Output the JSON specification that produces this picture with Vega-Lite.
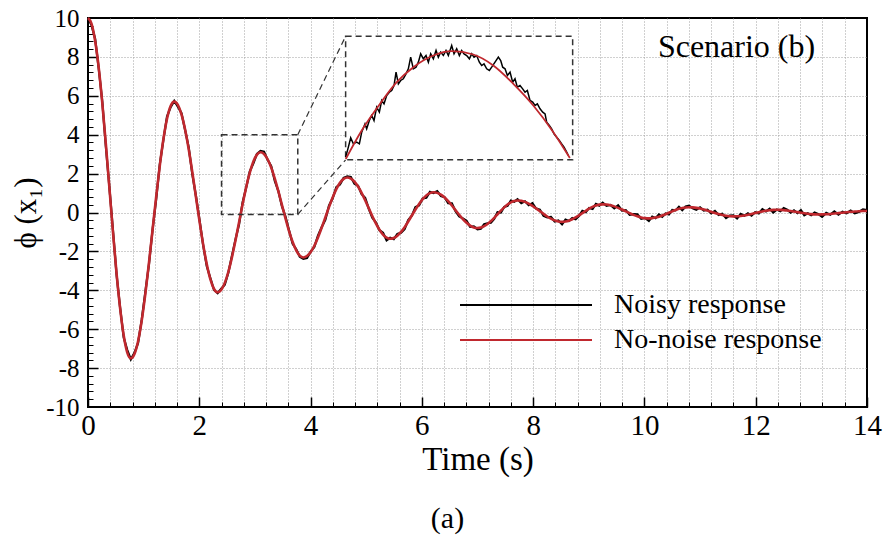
{
"$schema": "https://vega.github.io/schema/vega-lite/v6.json",
"width": 779, "height": 389,
"autosize": {"type": "none"},
"padding": {"left": 88, "top": 18, "right": 22, "bottom": 133},
"background": "white",
"config": {"font": "Liberation Serif", "view": {"stroke": "black", "strokeWidth": 2}, "axis": {"labelFont": "Liberation Serif", "titleFont": "Liberation Serif"}},
"title": {"text": "(a)", "orient": "bottom", "font": "Liberation Serif", "fontSize": 30, "fontWeight": "normal", "color": "black", "offset": 28, "dx": -30},
"datasets": {
"main": [
{"t":0,"c":10,"n":10},{"t":0.064,"c":9.702,"n":9.622},{"t":0.128,"c":8.828,"n":8.938},{"t":0.193,"c":7.437,"n":7.397},{"t":0.257,"c":5.625,"n":5.695},{"t":0.321,"c":3.515,"n":3.395},{"t":0.385,"c":1.25,"n":1.28},{"t":0.449,"c":-1.015,"n":-0.925},{"t":0.513,"c":-3.125,"n":-3.185},{"t":0.578,"c":-4.937,"n":-4.917},{"t":0.642,"c":-6.328,"n":-6.428},{"t":0.706,"c":-7.202,"n":-7.072},{"t":0.77,"c":-7.5,"n":-7.55},
{"t":0.835,"c":-7.275,"n":-7.215},{"t":0.9,"c":-6.616,"n":-6.706},{"t":0.965,"c":-5.567,"n":-5.527},{"t":1.03,"c":-4.2,"n":-4.1},{"t":1.095,"c":-2.608,"n":-2.678},{"t":1.16,"c":-0.9,"n":-0.89},{"t":1.225,"c":0.808,"n":0.678},{"t":1.29,"c":2.4,"n":2.48},{"t":1.355,"c":3.767,"n":3.737},{"t":1.42,"c":4.816,"n":4.936},{"t":1.485,"c":5.475,"n":5.415},{"t":1.55,"c":5.7,"n":5.74},
{"t":1.615,"c":5.533,"n":5.443},{"t":1.68,"c":5.043,"n":5.113},{"t":1.745,"c":4.265,"n":4.245},{"t":1.81,"c":3.25,"n":3.35},{"t":1.875,"c":2.068,"n":1.958},{"t":1.94,"c":0.8,"n":0.85},{"t":2.005,"c":-0.468,"n":-0.388},{"t":2.07,"c":-1.65,"n":-1.69},{"t":2.135,"c":-2.665,"n":-2.765},{"t":2.2,"c":-3.443,"n":-3.383},{"t":2.265,"c":-3.933,"n":-3.983},{"t":2.33,"c":-4.1,"n":-4.15},
{"t":2.394,"c":-3.977,"n":-3.917},{"t":2.458,"c":-3.618,"n":-3.718},{"t":2.523,"c":-3.046,"n":-3.086},{"t":2.587,"c":-2.3,"n":-2.22},{"t":2.651,"c":-1.432,"n":-1.382},{"t":2.715,"c":-0.5,"n":-0.61},{"t":2.779,"c":0.432,"n":0.532},{"t":2.843,"c":1.3,"n":1.28},{"t":2.908,"c":2.046,"n":2.116},{"t":2.972,"c":2.618,"n":2.528},{"t":3.036,"c":2.977,"n":3.017},{"t":3.1,"c":3.1,"n":3.16},
{"t":3.164,"c":3.008,"n":3.128},{"t":3.228,"c":2.738,"n":2.708},{"t":3.293,"c":2.308,"n":2.388},{"t":3.357,"c":1.748,"n":1.618},{"t":3.421,"c":1.095,"n":1.105},{"t":3.485,"c":0.395,"n":0.325},{"t":3.549,"c":-0.305,"n":-0.205},{"t":3.613,"c":-0.958,"n":-0.918},{"t":3.678,"c":-1.518,"n":-1.608},{"t":3.742,"c":-1.948,"n":-1.888},{"t":3.806,"c":-2.218,"n":-2.268},{"t":3.87,"c":-2.31,"n":-2.38},
{"t":3.936,"c":-2.24,"n":-2.34},{"t":4.002,"c":-2.035,"n":-2.015},{"t":4.068,"c":-1.708,"n":-1.768},{"t":4.133,"c":-1.283,"n":-1.193},{"t":4.199,"c":-0.787,"n":-0.757},{"t":4.265,"c":-0.255,"n":-0.375},{"t":4.331,"c":0.277,"n":0.347},{"t":4.397,"c":0.773,"n":0.733},{"t":4.463,"c":1.198,"n":1.308},{"t":4.528,"c":1.525,"n":1.445},{"t":4.594,"c":1.73,"n":1.78},{"t":4.66,"c":1.8,"n":1.86},
{"t":4.724,"c":1.746,"n":1.826},{"t":4.788,"c":1.589,"n":1.479},{"t":4.853,"c":1.339,"n":1.379},{"t":4.917,"c":1.013,"n":0.943},{"t":4.981,"c":0.633,"n":0.753},{"t":5.045,"c":0.225,"n":0.195},{"t":5.109,"c":-0.183,"n":-0.273},{"t":5.173,"c":-0.563,"n":-0.503},{"t":5.238,"c":-0.889,"n":-0.909},{"t":5.302,"c":-1.139,"n":-1.039},{"t":5.366,"c":-1.296,"n":-1.426},{"t":5.43,"c":-1.35,"n":-1.3},
{"t":5.495,"c":-1.309,"n":-1.369},{"t":5.56,"c":-1.19,"n":-1.1},{"t":5.625,"c":-1.0,"n":-1.04},{"t":5.69,"c":-0.753,"n":-0.853},{"t":5.755,"c":-0.464,"n":-0.394},{"t":5.82,"c":-0.155,"n":-0.165},{"t":5.885,"c":0.154,"n":0.284},{"t":5.95,"c":0.443,"n":0.363},{"t":6.015,"c":0.69,"n":0.72},{"t":6.08,"c":0.88,"n":0.76},{"t":6.145,"c":0.999,"n":1.059},{"t":6.21,"c":1.04,"n":1.0},
{"t":6.276,"c":1.009,"n":1.099},{"t":6.342,"c":0.917,"n":0.847},{"t":6.408,"c":0.771,"n":0.791},{"t":6.473,"c":0.58,"n":0.48},{"t":6.539,"c":0.358,"n":0.468},{"t":6.605,"c":0.12,"n":0.07},{"t":6.671,"c":-0.118,"n":-0.198},{"t":6.737,"c":-0.34,"n":-0.3},{"t":6.803,"c":-0.531,"n":-0.431},{"t":6.868,"c":-0.677,"n":-0.737},{"t":6.934,"c":-0.769,"n":-0.719},{"t":7.0,"c":-0.8,"n":-0.86},
{"t":7.06,"c":-0.776,"n":-0.836},{"t":7.12,"c":-0.705,"n":-0.605},{"t":7.18,"c":-0.592,"n":-0.552},{"t":7.24,"c":-0.445,"n":-0.525},{"t":7.3,"c":-0.274,"n":-0.324},{"t":7.36,"c":-0.09,"n":0.02},{"t":7.42,"c":0.094,"n":-0.006},{"t":7.48,"c":0.265,"n":0.285},{"t":7.54,"c":0.412,"n":0.342},{"t":7.6,"c":0.525,"n":0.615},{"t":7.66,"c":0.596,"n":0.556},{"t":7.72,"c":0.62,"n":0.68},
{"t":7.787,"c":0.601,"n":0.481},{"t":7.853,"c":0.546,"n":0.576},{"t":7.92,"c":0.459,"n":0.379},{"t":7.987,"c":0.345,"n":0.475},{"t":8.053,"c":0.212,"n":0.202},{"t":8.12,"c":0.07,"n":0.14},{"t":8.187,"c":-0.072,"n":-0.172},{"t":8.253,"c":-0.205,"n":-0.245},{"t":8.32,"c":-0.319,"n":-0.229},{"t":8.387,"c":-0.406,"n":-0.466},{"t":8.453,"c":-0.461,"n":-0.411},{"t":8.52,"c":-0.48,"n":-0.61},
{"t":8.581,"c":-0.465,"n":-0.365},{"t":8.642,"c":-0.42,"n":-0.44},{"t":8.703,"c":-0.348,"n":-0.288},{"t":8.763,"c":-0.255,"n":-0.345},{"t":8.824,"c":-0.146,"n":-0.176},{"t":8.885,"c":-0.03,"n":0.09},{"t":8.946,"c":0.086,"n":0.016},{"t":9.007,"c":0.195,"n":0.235},{"t":9.068,"c":0.288,"n":0.178},{"t":9.128,"c":0.36,"n":0.44},{"t":9.189,"c":0.405,"n":0.355},{"t":9.25,"c":0.42,"n":0.51},
{"t":9.319,"c":0.408,"n":0.348},{"t":9.388,"c":0.372,"n":0.392},{"t":9.458,"c":0.315,"n":0.215},{"t":9.527,"c":0.24,"n":0.37},{"t":9.596,"c":0.153,"n":0.103},{"t":9.665,"c":0.06,"n":0.12},{"t":9.734,"c":-0.033,"n":-0.123},{"t":9.803,"c":-0.12,"n":-0.08},{"t":9.873,"c":-0.195,"n":-0.095},{"t":9.942,"c":-0.252,"n":-0.322},{"t":10.011,"c":-0.288,"n":-0.278},{"t":10.08,"c":-0.3,"n":-0.43},
{"t":10.14,"c":-0.29,"n":-0.21},{"t":10.2,"c":-0.262,"n":-0.292},{"t":10.26,"c":-0.217,"n":-0.097},{"t":10.32,"c":-0.158,"n":-0.218},{"t":10.38,"c":-0.089,"n":-0.049},{"t":10.44,"c":-0.015,"n":-0.105},{"t":10.5,"c":0.059,"n":0.129},{"t":10.56,"c":0.128,"n":0.108},{"t":10.62,"c":0.187,"n":0.287},{"t":10.68,"c":0.232,"n":0.122},{"t":10.74,"c":0.26,"n":0.31},{"t":10.8,"c":0.27,"n":0.35},
{"t":10.867,"c":0.262,"n":0.222},{"t":10.933,"c":0.239,"n":0.139},{"t":11.0,"c":0.201,"n":0.261},{"t":11.067,"c":0.153,"n":0.103},{"t":11.133,"c":0.096,"n":0.146},{"t":11.2,"c":0.035,"n":-0.045},{"t":11.267,"c":-0.026,"n":0.084},{"t":11.333,"c":-0.083,"n":-0.123},{"t":11.4,"c":-0.131,"n":-0.061},{"t":11.467,"c":-0.169,"n":-0.289},{"t":11.533,"c":-0.192,"n":-0.162},{"t":11.6,"c":-0.2,"n":-0.15},
{"t":11.665,"c":-0.194,"n":-0.304},{"t":11.73,"c":-0.177,"n":-0.077},{"t":11.795,"c":-0.15,"n":-0.17},{"t":11.86,"c":-0.115,"n":-0.045},{"t":11.925,"c":-0.074,"n":-0.164},{"t":11.99,"c":-0.03,"n":0.01},{"t":12.055,"c":0.014,"n":-0.046},{"t":12.12,"c":0.055,"n":0.175},{"t":12.185,"c":0.09,"n":0.06},{"t":12.25,"c":0.117,"n":0.197},{"t":12.315,"c":0.134,"n":0.004},{"t":12.38,"c":0.14,"n":0.15},
{"t":12.442,"c":0.136,"n":0.066},{"t":12.503,"c":0.124,"n":0.224},{"t":12.565,"c":0.105,"n":0.145},{"t":12.627,"c":0.08,"n":-0.01},{"t":12.688,"c":0.051,"n":0.111},{"t":12.75,"c":0.02,"n":-0.03},{"t":12.812,"c":-0.011,"n":0.119},{"t":12.873,"c":-0.04,"n":-0.14},{"t":12.935,"c":-0.065,"n":-0.045},{"t":12.997,"c":-0.084,"n":-0.144},{"t":13.058,"c":-0.096,"n":-0.006},{"t":13.12,"c":-0.1,"n":-0.07},
{"t":13.193,"c":-0.097,"n":-0.217},{"t":13.267,"c":-0.088,"n":-0.018},{"t":13.34,"c":-0.074,"n":-0.114},{"t":13.413,"c":-0.055,"n":0.055},{"t":13.487,"c":-0.033,"n":-0.113},{"t":13.56,"c":-0.01,"n":0.04},{"t":13.633,"c":0.013,"n":-0.037},{"t":13.707,"c":0.035,"n":0.095},{"t":13.78,"c":0.054,"n":-0.046},{"t":13.853,"c":0.068,"n":0.028},{"t":13.927,"c":0.077,"n":0.157},{"t":14.0,"c":0.08,"n":0.13}
],
"zoombox": [{"t":2.4,"t2":3.77,"v":-0.1,"v2":4}],
"insetbox": [{"t":4.63,"t2":8.71,"v":2.71,"v2":9.06}],
"connectors": [{"t":3.77,"v":4,"t2":4.63,"v2":9.06},{"t":3.77,"v":-0.1,"t2":4.63,"v2":2.71}],
"insetNoisy": [
{"t":4.631,"v":2.845},{"t":4.679,"v":3.359},{"t":4.721,"v":3.839},{"t":4.769,"v":3.531},{"t":4.829,"v":3.616},{"t":4.877,"v":3.531},{"t":4.919,"v":4.13},{"t":4.978,"v":4.559},{"t":5.008,"v":4.302},{"t":5.056,"v":4.73},{"t":5.098,"v":4.987},{"t":5.14,"v":4.73},{"t":5.188,"v":5.416},{"t":5.236,"v":5.159},{"t":5.278,"v":5.759},{"t":5.32,"v":5.587},{"t":5.368,"v":6.016},{"t":5.416,"v":6.187},{"t":5.458,"v":6.273},{"t":5.5,"v":6.53},{"t":5.536,"v":7.215},{"t":5.578,"v":6.616},{"t":5.62,"v":6.787},{"t":5.667,"v":6.873},{"t":5.715,"v":7.13},{"t":5.757,"v":7.387},{"t":5.799,"v":7.987},{"t":5.847,"v":7.387},{"t":5.895,"v":7.472},{"t":5.937,"v":7.729},{"t":5.979,"v":8.158},{"t":6.027,"v":7.901},{"t":6.075,"v":8.072},{"t":6.117,"v":7.729},{"t":6.159,"v":8.158},{"t":6.207,"v":7.901},{"t":6.255,"v":8.329},{"t":6.296,"v":7.987},{"t":6.338,"v":8.244},{"t":6.386,"v":8.072},{"t":6.434,"v":8.329},{"t":6.476,"v":8.072},{"t":6.536,"v":8.586},{"t":6.578,"v":8.158},{"t":6.626,"v":8.415},{"t":6.674,"v":8.072},{"t":6.716,"v":8.329},{"t":6.758,"v":8.158},{"t":6.806,"v":8.072},{"t":6.854,"v":7.901},{"t":6.896,"v":8.158},{"t":6.937,"v":7.987},{"t":6.985,"v":8.072},{"t":7.033,"v":7.729},{"t":7.075,"v":7.558},{"t":7.117,"v":7.644},{"t":7.165,"v":7.387},{"t":7.213,"v":7.301},{"t":7.255,"v":7.472},{"t":7.315,"v":7.729},{"t":7.375,"v":7.987},{"t":7.417,"v":7.815},{"t":7.453,"v":7.472},{"t":7.495,"v":7.387},{"t":7.537,"v":7.044},{"t":7.585,"v":7.215},{"t":7.632,"v":6.701},{"t":7.674,"v":6.873},{"t":7.716,"v":6.444},{"t":7.764,"v":6.53},{"t":7.812,"v":6.358},{"t":7.854,"v":6.187},{"t":7.896,"v":6.273},{"t":7.944,"v":5.759},{"t":7.992,"v":5.673},{"t":8.034,"v":5.502},{"t":8.076,"v":5.587},{"t":8.124,"v":5.33},{"t":8.172,"v":5.159},{"t":8.214,"v":5.073},{"t":8.243,"v":4.645},{"t":8.291,"v":4.473},{"t":8.333,"v":4.302},{"t":8.375,"v":4.045},{"t":8.423,"v":3.873},{"t":8.471,"v":3.702},{"t":8.513,"v":3.531},{"t":8.555,"v":3.359},{"t":8.603,"v":3.102},{"t":8.633,"v":2.931}
],
"insetClean": [
{"t":4.632,"v":2.75},{"t":4.919,"v":4.216},{"t":5.248,"v":5.589},{"t":5.548,"v":6.699},{"t":5.847,"v":7.47},{"t":6.206,"v":8.072},{"t":6.537,"v":8.293},{"t":6.925,"v":8.123},{"t":7.284,"v":7.558},{"t":7.644,"v":6.617},{"t":8.003,"v":5.501},{"t":8.363,"v":4.129},{"t":8.66,"v":2.8}
],
"notes": [{"t":11.655,"v":8.51,"text":"Scenario (b)"}]
},
"layer": [
{
"data": {"name": "main"},
"mark": {"type": "line", "strokeWidth": 2.2, "interpolate": "linear"},
"encoding": {
"x": {"field": "t", "type": "quantitative", "scale": {"domain": [0, 14], "nice": false, "zero": false},
"axis": {"orient": "bottom", "zindex": 0, "values": [0, 2, 4, 6, 8, 10, 12, 14], "title": "Time (s)", "ticks": false, "grid": false, "domain": false, "labelFont": "Liberation Serif", "labelFontSize": 29, "labelColor": "black", "labelPadding": 4, "labelFlush": false, "labelOverlap": false, "titleFont": "Liberation Serif", "titleFontSize": 33, "titleFontWeight": "normal", "titleColor": "black", "titlePadding": 3}},
"y": {"field": "n", "type": "quantitative", "scale": {"domain": [-10, 10], "nice": false, "zero": false},
"axis": {"orient": "left", "zindex": 0, "values": [-10, -8, -6, -4, -2, 0, 2, 4, 6, 8, 10], "labelExpr": "'' + datum.value", "title": "ϕ (x₁)", "ticks": false, "grid": false, "domain": false, "labelFont": "Liberation Serif", "labelFontSize": 25, "labelColor": "black", "labelPadding": 9, "labelFlush": false, "labelOverlap": false, "titleFont": "Liberation Serif", "titleFontSize": 31, "titleFontWeight": "normal", "titleColor": "black", "titlePadding": 3}},
"color": {"datum": "Noisy response", "type": "nominal",
"scale": {"domain": ["Noisy response", "No-noise response"], "range": ["#000000", "#c0282e"]},
"legend": {"orient": "none", "legendX": 371, "legendY": 269.5, "title": null, "symbolType": "stroke", "symbolSize": 17424, "symbolStrokeWidth": 2, "clipHeight": 35, "rowPadding": 0, "padding": 0, "labelFont": "Liberation Serif", "labelFontSize": 28, "labelColor": "black", "labelOffset": 21, "labelLimit": 500}}
}
},
{
"data": {"name": "main"},
"mark": {"type": "line", "strokeWidth": 2.6, "interpolate": "monotone"},
"encoding": {
"x": {"field": "t", "type": "quantitative", "scale": {"domain": [0, 14], "nice": false, "zero": false},
"axis": {"orient": "bottom", "zindex": 0, "values": [0.4, 0.8, 1.2, 1.6, 2, 2.4, 2.8, 3.2, 3.6, 4, 4.4, 4.8, 5.2, 5.6, 6, 6.4, 6.8, 7.2, 7.6, 8, 8.4, 8.8, 9.2, 9.6, 10, 10.4, 10.8, 11.2, 11.6, 12, 12.4, 12.8, 13.2, 13.6], "title": null, "labels": false, "domain": false, "ticks": true, "tickSize": -5, "tickColor": "black", "tickWidth": 1, "grid": true, "gridColor": "#a0a0a0", "gridDash": [1, 2], "gridWidth": 1}},
"y": {"field": "c", "type": "quantitative", "scale": {"domain": [-10, 10], "nice": false, "zero": false},
"axis": {"orient": "left", "zindex": 0, "values": [-9.6, -9.2, -8.8, -8.4, -8, -7.6, -7.2, -6.8, -6.4, -6, -5.6, -5.2, -4.8, -4.4, -4, -3.6, -3.2, -2.8, -2.4, -2, -1.6, -1.2, -0.8, -0.4, 0, 0.4, 0.8, 1.2, 1.6, 2, 2.4, 2.8, 3.2, 3.6, 4, 4.4, 4.8, 5.2, 5.6, 6, 6.4, 6.8, 7.2, 7.6, 8, 8.4, 8.8, 9.2, 9.6], "title": null, "labels": false, "domain": false, "ticks": true, "tickSize": -5, "tickColor": "black", "tickWidth": 1, "grid": false}},
"color": {"datum": "No-noise response", "type": "nominal"}
}
},
{
"data": {"name": "zoombox"},
"mark": {"type": "rect", "fillOpacity": 0, "stroke": "#333333", "strokeWidth": 1.5, "strokeDash": [6, 4]},
"encoding": {
"x": {"field": "t", "type": "quantitative", "scale": {"domain": [0, 14], "nice": false, "zero": false},
"axis": {"orient": "bottom", "zindex": 0, "values": [0, 2, 4, 6, 8, 10, 12, 14], "title": null, "labels": false, "domain": false, "ticks": true, "tickSize": -10, "tickColor": "black", "tickWidth": 1.5, "grid": false}},
"x2": {"field": "t2"},
"y": {"field": "v", "type": "quantitative", "scale": {"domain": [-10, 10], "nice": false, "zero": false},
"axis": {"orient": "left", "zindex": 0, "values": [-8, -6, -4, -2, 0, 2, 4, 6, 8], "title": null, "labels": false, "domain": false, "ticks": true, "tickSize": -10, "tickColor": "black", "tickWidth": 1.5, "grid": true, "gridColor": "#a0a0a0", "gridDash": [1, 2], "gridWidth": 1}},
"y2": {"field": "v2"}
}
},
{
"data": {"name": "connectors"},
"mark": {"type": "rule", "stroke": "#333333", "strokeWidth": 1.2, "strokeDash": [6, 4]},
"encoding": {
"x": {"field": "t", "type": "quantitative", "scale": {"domain": [0, 14], "nice": false, "zero": false}, "axis": null},
"x2": {"field": "t2"},
"y": {"field": "v", "type": "quantitative", "scale": {"domain": [-10, 10], "nice": false, "zero": false}, "axis": null},
"y2": {"field": "v2"}
}
},
{
"data": {"name": "insetbox"},
"mark": {"type": "rect", "fill": "white", "stroke": "#333333", "strokeWidth": 1.5, "strokeDash": [6, 4]},
"encoding": {
"x": {"field": "t", "type": "quantitative", "scale": {"domain": [0, 14], "nice": false, "zero": false}, "axis": null},
"x2": {"field": "t2"},
"y": {"field": "v", "type": "quantitative", "scale": {"domain": [-10, 10], "nice": false, "zero": false}, "axis": null},
"y2": {"field": "v2"}
}
},
{
"data": {"name": "insetNoisy"},
"mark": {"type": "line", "color": "black", "strokeWidth": 1.5},
"encoding": {
"x": {"field": "t", "type": "quantitative", "scale": {"domain": [0, 14], "nice": false, "zero": false}, "axis": null},
"y": {"field": "v", "type": "quantitative", "scale": {"domain": [-10, 10], "nice": false, "zero": false}, "axis": null}
}
},
{
"data": {"name": "insetClean"},
"mark": {"type": "line", "color": "#c0282e", "strokeWidth": 1.8, "interpolate": "monotone"},
"encoding": {
"x": {"field": "t", "type": "quantitative", "scale": {"domain": [0, 14], "nice": false, "zero": false}, "axis": null},
"y": {"field": "v", "type": "quantitative", "scale": {"domain": [-10, 10], "nice": false, "zero": false}, "axis": null}
}
},
{
"data": {"name": "notes"},
"mark": {"type": "text", "font": "Liberation Serif", "fontSize": 32, "color": "black", "align": "center", "baseline": "middle"},
"encoding": {
"x": {"field": "t", "type": "quantitative", "scale": {"domain": [0, 14], "nice": false, "zero": false}, "axis": null},
"y": {"field": "v", "type": "quantitative", "scale": {"domain": [-10, 10], "nice": false, "zero": false}, "axis": null},
"text": {"field": "text"}
}
}
],
"resolve": {"axis": {"x": "independent", "y": "independent"}}
}
